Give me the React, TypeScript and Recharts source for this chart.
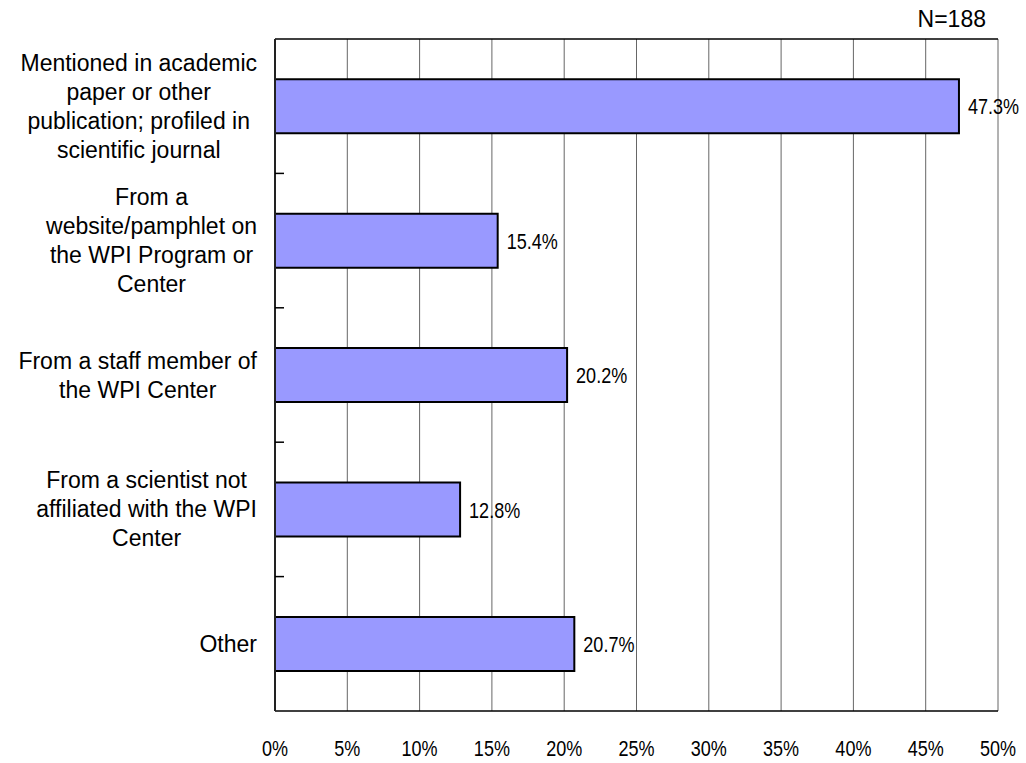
import { Bar, BarChart, CartesianGrid, LabelList, XAxis, YAxis } from "recharts";

const categories = [
  "Mentioned in academic\npaper or other\npublication; profiled in\nscientific journal",
  "From a\nwebsite/pamphlet on\nthe WPI Program or\nCenter",
  "From a staff member of\nthe WPI Center",
  "From a scientist not\naffiliated with the WPI\nCenter",
  "Other",
];
const percents = [47.3, 15.4, 20.2, 12.8, 20.7];
const xTicks = [0, 5, 10, 15, 20, 25, 30, 35, 40, 45, 50];
const sampleNote = "N=188";

const data = categories.map((label, i) => ({ label, pct: percents[i] }));

const labelFamily = '"Liberation Sans", Arial, sans-serif';
const NARROW = 0.82;
const CAT_MARGIN = 18;

let ctx: CanvasRenderingContext2D | null = null;
function textWidth(s: string) {
  if (!ctx) ctx = document.createElement("canvas").getContext("2d");
  if (!ctx) return s.length * 11;
  ctx.font = `23px ${labelFamily}`;
  return ctx.measureText(s).width;
}

// multi-line category label, plus the small inner tick at the band's lower edge
function CategoryTick({ x, y, payload, index }: any) {
  const lines = String(payload.value).split("\n");
  const w = Math.max(...lines.map(textWidth));
  const cx = x - w / 2;
  const lh = 29;
  const first = y - ((lines.length - 1) * lh) / 2;
  const edge = y + (payload.offset ?? 0);
  const axisX = x + CAT_MARGIN;
  return (
    <g>
      <text textAnchor="middle" fontFamily={labelFamily} fontSize={23} fill="#000">
        {lines.map((l, i) => (
          <tspan key={i} x={cx} y={first + i * lh + 8}>
            {l}
          </tspan>
        ))}
      </text>
      {index < categories.length - 1 && payload.offset ? (
        <line x1={axisX} x2={axisX + 9} y1={edge} y2={edge} stroke="#000" strokeWidth={1.5} />
      ) : null}
    </g>
  );
}

// narrow number text, squeezed horizontally like the original's gothic digits
function NarrowText({ x, y, anchor, children }: any) {
  return (
    <text
      transform={`translate(${x},${y}) scale(${NARROW},1)`}
      textAnchor={anchor}
      fontFamily={labelFamily}
      fontSize={22}
      fill="#000"
    >
      {children}
    </text>
  );
}

function PctTick({ x, y, payload }: any) {
  return (
    <NarrowText x={x} y={y + 16} anchor="middle">
      {`${payload.value}%`}
    </NarrowText>
  );
}

function ValueLabel({ x, y, width, height, value }: any) {
  return (
    <NarrowText x={x + width + 9} y={y + height / 2 + 8} anchor="start">
      {`${value}%`}
    </NarrowText>
  );
}

export default function App() {
  return (
    <div style={{ position: "absolute", left: 0, top: 0, width: 1026, height: 763, background: "#fff" }}>
      <BarChart
        width={1026}
        height={763}
        data={data}
        layout="vertical"
        barCategoryGap="30%"
        margin={{ top: 38, right: 28, bottom: 0, left: 0 }}
      >
        <CartesianGrid xAxisId="v" yAxisId="cat" horizontal={false} stroke="#666" />
        <XAxis
          xAxisId="v"
          type="number"
          domain={[0, 50]}
          ticks={xTicks}
          axisLine={{ stroke: "#000", strokeWidth: 1.5 }}
          tickLine={false}
          tickSize={0}
          tickMargin={29}
          height={52}
          tick={<PctTick />}
        />
        <XAxis
          xAxisId="top"
          orientation="top"
          type="number"
          domain={[0, 50]}
          height={1}
          tick={false}
          tickLine={false}
          axisLine={{ stroke: "#000", strokeWidth: 1.5 }}
        />
        <YAxis
          yAxisId="cat"
          type="category"
          dataKey="label"
          width={275}
          interval={0}
          tickLine={false}
          tickSize={0}
          tickMargin={CAT_MARGIN}
          axisLine={{ stroke: "#222", strokeWidth: 2 }}
          tick={<CategoryTick />}
        />
        <Bar
          xAxisId="v"
          yAxisId="cat"
          dataKey="pct"
          fill="#9999FF"
          stroke="#000"
          strokeWidth={2}
          isAnimationActive={false}
        >
          <LabelList dataKey="pct" content={<ValueLabel />} />
        </Bar>
      </BarChart>
      <div
        style={{
          position: "absolute",
          right: 40,
          top: 8,
          fontFamily: labelFamily,
          fontSize: 23,
          lineHeight: "23px",
          color: "#000",
        }}
      >
        {sampleNote}
      </div>
    </div>
  );
}
